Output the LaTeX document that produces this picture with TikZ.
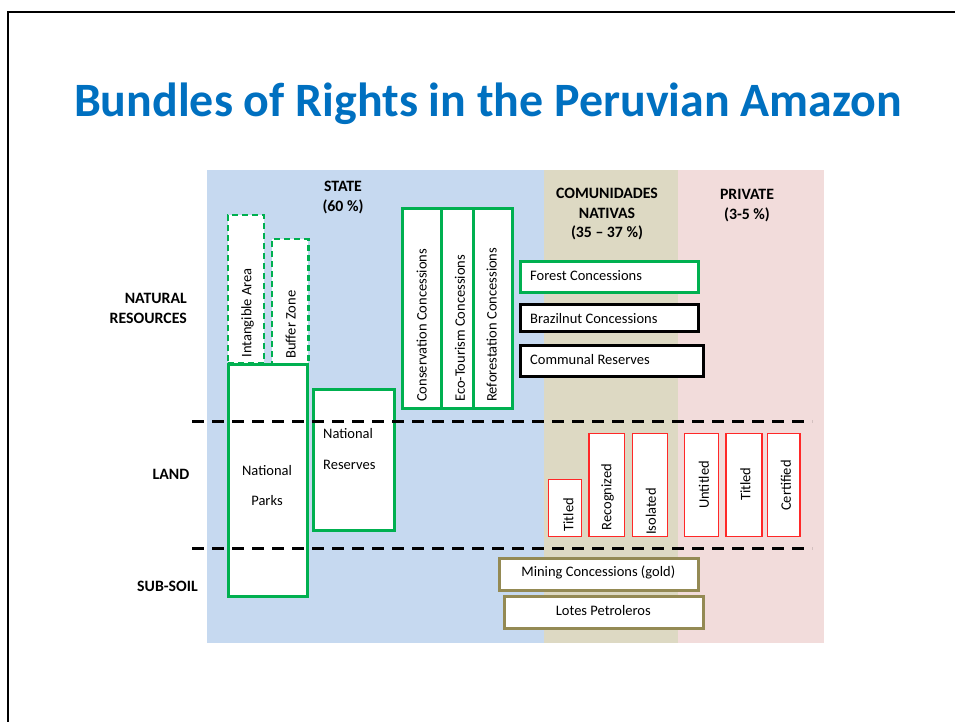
\documentclass[tikz,border=0pt]{standalone}
\usepackage{fontspec}
\setmainfont{Carlito}
\definecolor{titleblue}{RGB}{0,112,192}
\definecolor{stateblue}{RGB}{198,217,240}
\definecolor{cntan}{RGB}{221,217,195}
\definecolor{privpink}{RGB}{242,220,219}
\definecolor{gr}{RGB}{0,176,80}
\definecolor{olv}{RGB}{148,138,84}
\definecolor{rd}{RGB}{255,40,40}
\tikzset{
  bx/.style={rectangle, fill=white, inner sep=0pt},
  gbox/.style={bx, draw=gr, line width=3pt},
  gdash/.style={bx, draw=gr, line width=2.5pt, dash pattern=on 6pt off 4pt},
  kbox/.style={bx, draw=black, line width=3pt},
  rbox/.style={bx, draw=rd, line width=1.4pt},
  obox/.style={bx, draw=olv, line width=3pt},
  txt/.style={inner sep=0pt, font=\fontsize{14.5}{17}\selectfont},
  rtxt/.style={txt, rotate=90, anchor=west},
  hdr/.style={inner sep=0pt, align=center, font=\bfseries\fontsize{15.8}{19.5}\selectfont},
  divider/.style={line width=3pt, dash pattern=on 12pt off 8pt},
}
\begin{document}
\begin{tikzpicture}[x=1pt,y=-1pt]
\useasboundingbox (0,0) rectangle (955,722);
% frame
\draw[line width=2pt] (956,12) -- (8,12) -- (8,723);
% title
\node[inner sep=0pt, anchor=base, text=titleblue, font=\bfseries\fontsize{47.9}{57}\selectfont] (title) at (488,117) {Bundles of Rights in the Peruvian Amazon};
% backgrounds
\fill[stateblue] (207,170) rectangle (544,643);
\fill[cntan] (544,170) rectangle (678,643);
\fill[privpink] (678,170) rectangle (824,643);
% headers
\node[hdr] (hstate) at (343,197.5) {STATE\\(60 \%)};
\node[hdr] (hcn) at (607,214.5) {COMUNIDADES\\NATIVAS\\(35 – 37 \%)};
\node[hdr] (hpriv) at (747,205.5) {PRIVATE\\(3-5 \%)};
% row labels
\node[hdr, align=right, anchor=east] (rnat) at (187,308.5) {NATURAL\\RESOURCES};
\node[hdr] (rland) at (171,474) {LAND};
\node[hdr] (rsub) at (167.5,586) {SUB-SOIL};
% state boxes
\node[gdash, minimum width=36pt, minimum height=148pt] (ia) at (246,289) {};
\node[gdash, minimum width=36.5pt, minimum height=125pt] (bz) at (290,301.5) {};
\node[gbox, minimum width=79.5pt, minimum height=232pt] (np) at (268,480) {};
\node[gbox, minimum width=81pt, minimum height=141.5pt] (nr) at (354,460) {};
\node[gbox, minimum width=39pt, minimum height=200pt] (cc) at (421.5,308) {};
\node[gbox, minimum width=32pt, minimum height=200pt] (ec) at (457,308) {};
\node[gbox, minimum width=39.5pt, minimum height=200pt] (rc) at (492.75,308) {};
\node[rtxt] (iat) at (247.7,357.7) {Intangible Area};
\node[rtxt] (bzt) at (290.7,359) {Buffer Zone};
\node[rtxt] (cct) at (421.7,402) {Conservation Concessions};
\node[rtxt] (ect) at (460,402) {Eco-Tourism Concessions};
\node[rtxt] (rct) at (491.7,402) {Reforestation Concessions};
\node[txt, align=center, font=\fontsize{14.5}{30}\selectfont] (npt) at (267,486) {National\\Parks};
\node[txt, align=left, anchor=west, font=\fontsize{14.5}{31}\selectfont] (nrt) at (323,449) {National\\Reserves};
% horizontal concession boxes
\node[gbox, minimum width=178pt, minimum height=30.5pt] (fc) at (609,277) {};
\node[kbox, minimum width=178pt, minimum height=26.5pt] (bc) at (609,318) {};
\node[kbox, minimum width=183pt, minimum height=31.5pt] (cr) at (611.5,361) {};
\node[txt, anchor=west] (fct) at (530,276) {Forest Concessions};
\node[txt, anchor=west] (bct) at (530,319) {Brazilnut Concessions};
\node[txt, anchor=west] (crt) at (530,359.5) {Communal Reserves};
% land boxes
\node[rbox, minimum width=33.5pt, minimum height=57.5pt] (tcn) at (565,508) {};
\node[rbox, minimum width=35.5pt, minimum height=103.5pt] (rec) at (606.75,485) {};
\node[rbox, minimum width=35.5pt, minimum height=103.5pt] (iso) at (650,485) {};
\node[rbox, minimum width=33.5pt, minimum height=103.5pt] (unt) at (701.5,485) {};
\node[rbox, minimum width=36pt, minimum height=103.5pt] (tpr) at (744,485) {};
\node[rbox, minimum width=32.5pt, minimum height=103.5pt] (cer) at (783.75,485) {};
\node[rtxt] (tcnt) at (568.3,531.7) {Titled};
\node[rtxt] (rect) at (607.7,530.7) {Recognized};
\node[rtxt] (isot) at (651,535) {Isolated};
\node[rtxt] (untt) at (704,509) {Untitled};
\node[rtxt] (tprt) at (745.3,501) {Titled};
\node[rtxt] (cert) at (786,511) {Certified};
% sub-soil boxes
\node[obox, minimum width=199pt, minimum height=32pt] (mc) at (599,574) {};
\node[obox, minimum width=199pt, minimum height=32pt] (lp) at (604,612) {};
\node[txt] (mct) at (598.3,572.5) {Mining Concessions (gold)};
\node[txt] (lpt) at (603.3,610.5) {Lotes Petroleros};
% dividers
\coordinate (d1a) at (192,421);
\coordinate (d1b) at (812,421);
\coordinate (d2a) at (192,548);
\coordinate (d2b) at (812,548);
\draw[divider] (d1a) -- (d1b);
\draw[divider] (d2a) -- (d2b);
\end{tikzpicture}
\end{document}
